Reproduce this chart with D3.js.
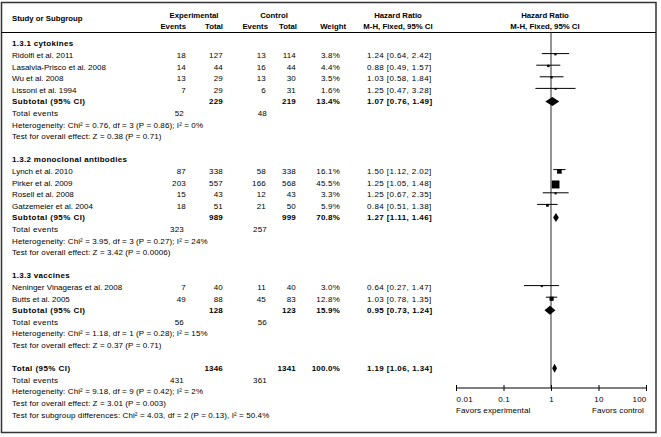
<!DOCTYPE html>
<html><head><meta charset="utf-8">
<script src="https://cdn.jsdelivr.net/npm/d3@7"></script>
<style>
html,body{margin:0;padding:0;background:#fff;}
svg{display:block;font-family:"Liberation Sans",Arial,sans-serif;}
</style></head><body>
<svg id="c" width="661" height="437"></svg>
<script>
// ---------- data ----------
const groupNames = ["1.3.1 cytokines", "1.3.2 monoclonal antibodies", "1.3.3 vaccines"];
const studyNames = ["Ridolfi et al. 2011", "Lasalvia-Prisco et al. 2008", "Wu et al. 2008", "Lissoni et al. 1994",
  "Lynch et al. 2010", "Pirker et al. 2009", "Rosell et al. 2008", "Gatzemeier et al. 2004",
  "Neninger Vinageras et al. 2008", "Butts et al. 2005"];
const studyGroup = [0, 0, 0, 0, 1, 1, 1, 1, 2, 2];
const expEvents = [18, 14, 13, 7, 87, 203, 15, 18, 7, 49];
const expTotal = [127, 44, 29, 29, 338, 557, 43, 51, 40, 88];
const ctrlEvents = [13, 16, 13, 6, 58, 166, 12, 21, 11, 45];
const ctrlTotal = [114, 44, 30, 31, 338, 568, 43, 50, 40, 83];
const weights = [3.8, 4.4, 3.5, 1.6, 16.1, 45.5, 3.3, 5.9, 3.0, 12.8];
const hr = [1.24, 0.88, 1.03, 1.25, 1.50, 1.25, 1.25, 0.84, 0.64, 1.03];
const hrLo = [0.64, 0.49, 0.58, 0.47, 1.12, 1.05, 0.67, 0.51, 0.27, 0.78];
const hrHi = [2.42, 1.57, 1.84, 3.28, 2.02, 1.48, 2.35, 1.38, 1.47, 1.35];

const subExpEvents = [52, 323, 56];
const subCtrlEvents = [48, 257, 56];
const subExpTotal = [229, 989, 128];
const subCtrlTotal = [219, 999, 123];
const subWeight = [13.4, 70.8, 15.9];
const subHR = [1.07, 1.27, 0.95];
const subLo = [0.76, 1.11, 0.73];
const subHi = [1.49, 1.46, 1.24];
const subHet = ["Heterogeneity: Chi² = 0.76, df = 3 (P = 0.86); I² = 0%",
  "Heterogeneity: Chi² = 3.95, df = 3 (P = 0.27); I² = 24%",
  "Heterogeneity: Chi² = 1.18, df = 1 (P = 0.28); I² = 15%"];
const subTest = ["Test for overall effect: Z = 0.38 (P = 0.71)",
  "Test for overall effect: Z = 3.42 (P = 0.0006)",
  "Test for overall effect: Z = 0.37 (P = 0.71)"];

const totalExpTotal = 1346, totalCtrlTotal = 1341, totalWeight = 100.0;
const totalHR = 1.19, totalLo = 1.06, totalHi = 1.34;
const totalExpEvents = 431, totalCtrlEvents = 361;
const totalHet = "Heterogeneity: Chi² = 9.18, df = 9 (P = 0.42); I² = 2%";
const totalTest = "Test for overall effect: Z = 3.01 (P = 0.003)";
const subgroupTest = "Test for subgroup differences: Chi² = 4.03, df = 2 (P = 0.13), I² = 50.4%";

const axisTicks = [0.01, 0.1, 1, 10, 100];
const axisTickLabels = ["0.01", "0.1", "1", "10", "100"];
const favorsLeft = "Favors experimental", favorsRight = "Favors control";

// ---------- layout ----------
const svg = d3.select("#c");
const FS = 8, FSH = 7.8;
const x = d3.scaleLog().domain([0.01, 100]).range([456, 646]);
const rowY = d3.scaleLinear().domain([0, 1]).range([43.5, 55.1]);
const col = {name: 12, expE: 186, expEt: 184, expT: 223, ctlE: 266, ctlEt: 267, ctlT: 296, wt: 340, hr: 367};
const axisY = 388;

const fmtHR = (h, l, u) => `${h.toFixed(2)} [${l.toFixed(2)}, ${u.toFixed(2)}]`;
const fmtW = w => w.toFixed(1) + "%";

function txt(xp, yp, s, anchor, bold, ls, fs) {
  svg.append("text").attr("x", xp).attr("y", yp).attr("dy", "0.35em")
    .attr("text-anchor", anchor || "start")
    .attr("font-size", fs || FS).attr("font-weight", bold ? "bold" : "normal")
    .attr("letter-spacing", ls || 0)
    .attr("fill", "#000").text(s);
}

// border
svg.append("rect").attr("x", 1.5).attr("y", 2.5).attr("width", 654.5).attr("height", 430)
  .attr("fill", "none").attr("stroke", "#333").attr("stroke-width", 1.5);
svg.append("line").attr("x1", 1.5).attr("x2", 656).attr("y1", 32.5).attr("y2", 32.5)
  .attr("stroke", "#000").attr("stroke-width", 1);

// header
const h1 = 15, h2 = 26;
txt(col.name, 18, "Study or Subgroup", "start", true, 0, FSH);
txt(194, h1, "Experimental", "middle", true, 0, FSH);
txt(col.expE, h2, "Events", "end", true, 0, FSH);
txt(col.expT, h2, "Total", "end", true, 0, FSH);
txt(274, h1, "Control", "middle", true, 0, FSH);
txt(col.ctlE + 2, h2, "Events", "end", true, 0, FSH);
txt(col.ctlT + 1, h2, "Total", "end", true, 0, FSH);
txt(346, h2, "Weight", "end", true, 0, FSH);
txt(398, h1, "Hazard Ratio", "middle", true, 0, FSH);
txt(398, h2, "M-H, Fixed, 95% CI", "middle", true, 0, FSH);
txt(545, h1, "Hazard Ratio", "middle", true, 0, FSH);
txt(545, h2, "M-H, Fixed, 95% CI", "middle", true, 0, FSH);

// rows
const rows = [];
groupNames.forEach((g, gi) => {
  rows.push({type: "group", text: g});
  studyNames.forEach((n, i) => { if (studyGroup[i] === gi) rows.push({type: "study", i}); });
  rows.push({type: "sub", gi});
  rows.push({type: "events", e: subExpEvents[gi], c: subCtrlEvents[gi]});
  rows.push({type: "note", text: subHet[gi]});
  rows.push({type: "note", text: subTest[gi]});
  rows.push({type: "blank"});
});
rows.push({type: "total"});
rows.push({type: "events", e: totalExpEvents, c: totalCtrlEvents});
rows.push({type: "note", text: totalHet});
rows.push({type: "note", text: totalTest});
rows.push({type: "note", text: subgroupTest});

// reference line at 1
svg.append("line").attr("x1", x(1)).attr("x2", x(1)).attr("y1", 33).attr("y2", axisY)
  .attr("stroke", "#7a7a7a").attr("stroke-width", 1.6);

const marks = svg.append("g");
function diamond(h, l, u, cy) {
  const hh = 4.5;
  marks.append("path")
    .attr("d", `M${x(l)},${cy}L${x(h)},${cy - hh}L${x(u)},${cy}L${x(h)},${cy + hh}Z`)
    .attr("fill", "#000");
}

const LS_HR = 0.4, LS_NOTE = 0.1, LS_BOLD = 0.3;
rows.forEach((r, k) => {
  const y = rowY(k);
  if (r.type === "group") txt(col.name, y, r.text, "start", true, LS_BOLD);
  else if (r.type === "study") {
    const i = r.i;
    txt(col.name, y, studyNames[i]);
    txt(col.expE, y, expEvents[i], "end", false, 0.2);
    txt(col.expT, y, expTotal[i], "end", false, 0.2);
    txt(col.ctlE, y, ctrlEvents[i], "end", false, 0.2);
    txt(col.ctlT, y, ctrlTotal[i], "end", false, 0.2);
    txt(col.wt, y, fmtW(weights[i]), "end", false, 0.2);
    txt(col.hr, y, fmtHR(hr[i], hrLo[i], hrHi[i]), "start", false, LS_HR);
    const ly = y - 1.5;
    marks.append("line").attr("x1", x(hrLo[i])).attr("x2", x(hrHi[i]))
      .attr("y1", ly).attr("y2", ly).attr("stroke", "#000").attr("stroke-width", 1);
    const s = Math.max(2, 1.15 * Math.sqrt(weights[i]));
    marks.append("rect").attr("x", x(hr[i]) - s / 2).attr("y", ly - 0.5)
      .attr("width", s).attr("height", s).attr("fill", "#000");
  } else if (r.type === "sub") {
    const g = r.gi;
    txt(col.name, y, "Subtotal (95% CI)", "start", true, 0.45);
    txt(col.expT, y, subExpTotal[g], "end", true, 0.2);
    txt(col.ctlT, y, subCtrlTotal[g], "end", true, 0.2);
    txt(col.wt, y, fmtW(subWeight[g]), "end", true, 0.2);
    txt(col.hr, y, fmtHR(subHR[g], subLo[g], subHi[g]), "start", true, LS_HR);
    diamond(subHR[g], subLo[g], subHi[g], y);
  } else if (r.type === "events") {
    txt(col.name, y, "Total events", "start", false, 0.3);
    txt(col.expEt, y, r.e, "end", false, 0.2);
    txt(col.ctlEt, y, r.c, "end", false, 0.2);
  } else if (r.type === "note") {
    txt(col.name, y, r.text, "start", false, LS_NOTE);
  } else if (r.type === "total") {
    txt(col.name, y, "Total (95% CI)", "start", true, 0.45);
    txt(col.expT, y, totalExpTotal, "end", true, 0.2);
    txt(col.ctlT, y, totalCtrlTotal, "end", true, 0.2);
    txt(col.wt, y, fmtW(totalWeight), "end", true, 0.2);
    txt(col.hr, y, fmtHR(totalHR, totalLo, totalHi), "start", true, LS_HR);
    diamond(totalHR, totalLo, totalHi, y);
  }
});

// axis
svg.append("line").attr("x1", x(0.01)).attr("x2", x(100)).attr("y1", axisY).attr("y2", axisY)
  .attr("stroke", "#000").attr("stroke-width", 1);
const ax = svg.append("g").attr("transform", `translate(0,${axisY - 3})`)
  .call(d3.axisBottom(x).tickValues(axisTicks).tickSize(6).tickPadding(5)
    .tickFormat((d, i) => axisTickLabels[i]));
ax.select(".domain").remove();
ax.selectAll(".tick line").attr("stroke", "#000");
ax.selectAll(".tick text").attr("font-size", FS).attr("fill", "#000")
  .attr("font-family", "Liberation Sans, Arial, sans-serif").attr("letter-spacing", 0.2)
  .attr("text-anchor", (d, i) => i === 0 ? "start" : (i === axisTicks.length - 1 ? "end" : "middle"));
txt(x(0.01), 410, favorsLeft, "start", false, 0.1);
txt(x(100) - 2, 410, favorsRight, "end", false, 0.1);
</script>
</body></html>
